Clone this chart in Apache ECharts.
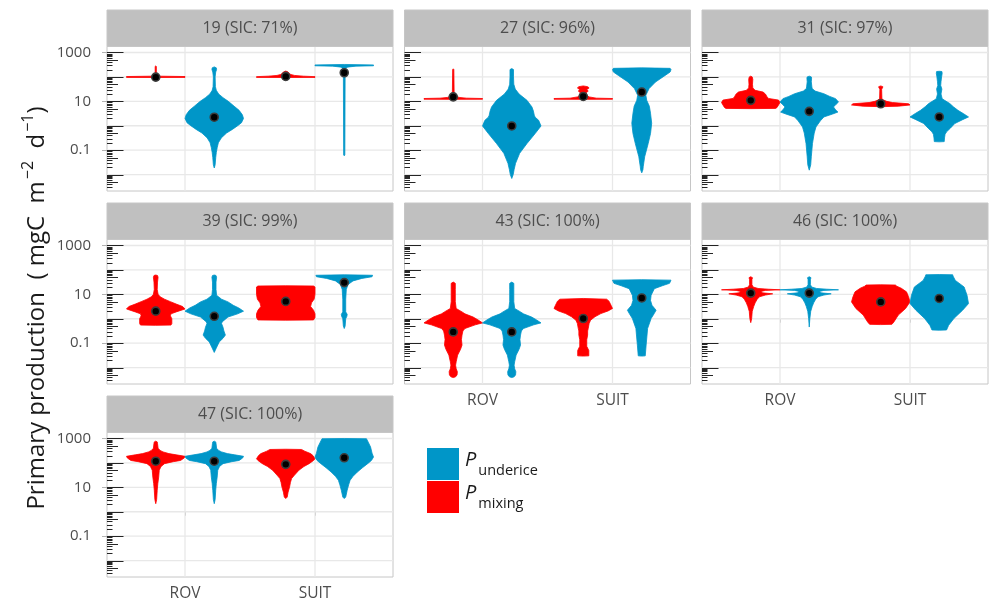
<!DOCTYPE html>
<html>
<head>
<meta charset="utf-8">
<script src="https://cdn.jsdelivr.net/npm/echarts@6/dist/echarts.min.js"></script>
<style>
  html, body { margin: 0; padding: 0; background: #ffffff; }
  #chart { width: 990px; height: 602px; }
</style>
</head>
<body>
<div id="chart"></div>
<script>
// ---------------------------------------------------------------------------
// Primary production by station, platform and source (log10 mgC m-2 d-1)
// ---------------------------------------------------------------------------
const facetLabels = ['19 (SIC: 71%)', '27 (SIC: 96%)', '31 (SIC: 97%)',
                     '39 (SIC: 99%)', '43 (SIC: 100%)', '46 (SIC: 100%)', '47 (SIC: 100%)'];
const platforms = ['ROV', 'SUIT'];
const sources = ['mixing', 'underice'];

// axis breaks, in log10 units
const yLabelLevels = [-1, 1, 3];
const yGridLevels = [-2, -1, 0, 1, 2, 3];
const logTickDecades = [-3, -2, -1, 0, 1, 2, 3];
const logTickMultipliers = [1, 2, 3, 4, 5, 6, 7, 8, 9];

// medians (log10); order: ROV mixing, ROV underice, SUIT mixing, SUIT underice
const median19 = [1.99, 0.35, 2.02, 2.17];
const median27 = [1.18, -0.01, 1.20, 1.38];
const median31 = [1.04, 0.59, 0.90, 0.36];
const median39 = [0.31, 0.10, 0.71, 1.48];
const median43 = [-0.54, -0.54, 0.01, 0.85];
const median46 = [1.05, 1.05, 0.69, 0.83];
const median47 = [2.07, 2.07, 1.94, 2.21];

// density outlines: [log10 value, relative half-width], bottom to top
const violin19 = [
  [[1.975,0],[1.98,1],[2.015,1],[2.03,0.08],[2.1,0.02],[2.43,0.02],[2.45,0]],
  [[-1.73,0],[-1.6,0.03],[-1.3,0.05],[-1.1,0.07],[-0.9,0.1],[-0.7,0.14],[-0.5,0.24],[-0.3,0.42],[-0.15,0.62],[0.0,0.8],[0.12,0.93],[0.3,1.0],[0.45,0.96],[0.63,0.85],[0.8,0.68],[1.0,0.48],[1.15,0.3],[1.3,0.15],[1.45,0.07],[1.6,0.04],[2.0,0.03],[2.2,0.05],[2.3,0.08],[2.37,0.07],[2.41,0]],
  [[1.975,0],[1.98,1],[2.01,1],[2.03,0.6],[2.06,0.3],[2.1,0.17],[2.15,0.12],[2.2,0.08],[2.24,0]],
  [[-1.23,0],[-1.2,0.02],[2.3,0.03],[2.4,0.1],[2.44,0.4],[2.455,1],[2.49,1],[2.51,0]]
];
const violin27 = [
  [[1.08,0],[1.085,1],[1.115,1],[1.13,0.45],[1.16,0.2],[1.2,0.12],[1.25,0.06],[1.35,0.03],[2.3,0.02],[2.33,0]],
  [[-2.16,0],[-2.0,0.05],[-1.8,0.08],[-1.54,0.13],[-1.13,0.27],[-0.73,0.52],[-0.32,0.8],[-0.01,1.0],[0.22,0.92],[0.35,0.8],[0.43,0.77],[0.6,0.74],[0.77,0.69],[1.04,0.52],[1.3,0.25],[1.5,0.12],[1.7,0.07],[2.0,0.06],[2.3,0.06],[2.34,0]],
  [[1.08,0],[1.085,1],[1.115,1],[1.13,0.45],[1.18,0.2],[1.25,0.12],[1.35,0.1],[1.42,0.17],[1.48,0.12],[1.55,0.2],[1.6,0.15],[1.63,0]],
  [[-1.93,0],[-1.8,0.04],[-1.68,0.05],[-1.27,0.1],[-0.73,0.22],[-0.32,0.3],[0.1,0.34],[0.51,0.3],[0.8,0.26],[1.04,0.17],[1.25,0.14],[1.52,0.25],[1.79,0.47],[2.06,0.8],[2.2,0.97],[2.3,1.0],[2.35,0.97],[2.37,0]]
];
const violin31 = [
  [[0.70,0],[0.71,0.85],[0.75,0.9],[0.85,0.95],[0.95,1.0],[1.05,0.95],[1.12,0.6],[1.2,0.55],[1.3,0.5],[1.38,0.42],[1.45,0.15],[1.55,0.07],[1.7,0.06],[1.9,0.07],[2.0,0.05],[2.03,0]],
  [[-1.82,0],[-1.6,0.05],[-1.27,0.07],[-0.73,0.11],[-0.3,0.17],[-0.05,0.23],[0.2,0.38],[0.36,0.5],[0.48,0.8],[0.56,0.98],[0.65,0.9],[0.77,0.83],[0.88,0.92],[0.97,1.0],[1.11,0.9],[1.2,0.7],[1.31,0.5],[1.42,0.2],[1.52,0.1],[1.59,0.09],[1.8,0.07],[1.95,0.08],[2.0,0.07],[2.03,0]],
  [[0.78,0],[0.8,0.6],[0.85,1.0],[0.9,0.95],[0.95,0.4],[1.0,0.2],[1.05,0.1],[1.1,0.04],[1.5,0.03],[1.55,0.06],[1.6,0.07],[1.63,0]],
  [[-0.66,0],[-0.65,0.17],[-0.5,0.18],[-0.35,0.2],[-0.25,0.25],[-0.1,0.38],[0.09,0.53],[0.25,0.8],[0.36,1.0],[0.5,0.82],[0.63,0.64],[0.78,0.48],[0.91,0.36],[1.05,0.17],[1.11,0.1],[1.3,0.06],[1.5,0.09],[1.65,0.05],[1.8,0.06],[2.0,0.08],[2.15,0.1],[2.22,0.09],[2.23,0]]
];
const violin39 = [
  [[-0.27,0],[-0.26,0.52],[-0.2,0.55],[0.0,0.55],[0.12,0.5],[0.2,0.52],[0.28,0.7],[0.4,1.0],[0.5,0.92],[0.6,0.7],[0.7,0.5],[0.8,0.3],[0.9,0.15],[1.0,0.08],[1.2,0.05],[1.5,0.06],[1.7,0.08],[1.77,0.06],[1.79,0]],
  [[-1.38,0],[-1.2,0.07],[-0.95,0.17],[-0.8,0.3],[-0.67,0.38],[-0.5,0.33],[-0.35,0.3],[-0.2,0.25],[-0.13,0.27],[0.07,0.47],[0.2,0.8],[0.31,1.0],[0.44,0.84],[0.55,0.65],[0.69,0.47],[0.8,0.25],[0.96,0.08],[1.2,0.06],[1.5,0.06],[1.7,0.08],[1.77,0.06],[1.79,0]],
  [[-0.06,0],[-0.05,0.95],[0.05,1.0],[0.2,1.0],[0.35,0.95],[0.5,0.85],[0.65,0.88],[0.8,0.97],[1.0,1.0],[1.3,1.0],[1.34,0.95],[1.35,0]],
  [[-0.4,0],[-0.3,0.03],[0.0,0.05],[0.1,0.09],[0.18,0.1],[0.28,0.05],[0.8,0.05],[1.2,0.07],[1.4,0.13],[1.55,0.3],[1.65,0.6],[1.72,0.95],[1.78,0.97],[1.8,0]]
];
const violin43 = [
  [[-2.41,0],[-2.38,0.08],[-2.3,0.13],[-2.17,0.14],[-2.05,0.1],[-1.9,0.08],[-1.76,0.1],[-1.49,0.15],[-1.25,0.25],[-1.08,0.3],[-0.85,0.28],[-0.67,0.3],[-0.5,0.33],[-0.4,0.4],[-0.25,0.75],[-0.17,1.0],[-0.05,0.85],[0.07,0.68],[0.2,0.4],[0.28,0.3],[0.42,0.1],[0.7,0.07],[1.2,0.07],[1.45,0.07],[1.5,0]],
  [[-2.41,0],[-2.38,0.08],[-2.3,0.13],[-2.17,0.14],[-2.05,0.1],[-1.9,0.08],[-1.76,0.1],[-1.49,0.15],[-1.25,0.25],[-1.08,0.3],[-0.85,0.28],[-0.67,0.3],[-0.5,0.33],[-0.4,0.4],[-0.25,0.75],[-0.17,1.0],[-0.05,0.85],[0.07,0.68],[0.2,0.4],[0.28,0.3],[0.42,0.1],[0.7,0.07],[1.2,0.07],[1.45,0.07],[1.5,0]],
  [[-1.53,0],[-1.52,0.19],[-1.3,0.19],[-1.13,0.12],[-0.86,0.12],[-0.67,0.15],[-0.5,0.15],[-0.4,0.17],[-0.2,0.2],[-0.06,0.25],[0.08,0.4],[0.21,0.6],[0.32,0.85],[0.42,1.0],[0.55,0.95],[0.72,0.88],[0.8,0.8],[0.83,0]],
  [[-1.53,0],[-1.52,0.12],[-1.08,0.15],[-0.4,0.2],[0.01,0.32],[0.2,0.42],[0.35,0.49],[0.55,0.35],[0.75,0.3],[0.96,0.32],[1.23,0.43],[1.35,0.7],[1.45,0.95],[1.58,1.0],[1.6,0]]
];
const violin46 = [
  [[-0.16,0],[0.0,0.03],[0.3,0.05],[0.5,0.1],[0.65,0.15],[0.8,0.22],[0.9,0.3],[0.97,0.5],[1.02,0.75],[1.06,0.4],[1.12,0.35],[1.16,0.5],[1.185,1.0],[1.21,0.6],[1.24,0.25],[1.3,0.08],[1.4,0.04],[1.6,0.04],[1.68,0.06],[1.72,0]],
  [[-0.34,0],[0.0,0.02],[0.3,0.05],[0.5,0.1],[0.65,0.15],[0.8,0.22],[0.9,0.3],[0.97,0.5],[1.02,0.75],[1.06,0.4],[1.12,0.35],[1.16,0.5],[1.185,1.0],[1.21,0.6],[1.24,0.25],[1.3,0.08],[1.4,0.04],[1.6,0.04],[1.68,0.06],[1.72,0]],
  [[-0.24,0],[-0.23,0.38],[-0.13,0.45],[0.15,0.6],[0.42,0.85],[0.69,1.0],[0.9,0.95],[1.1,0.88],[1.25,0.7],[1.33,0.55],[1.38,0.5],[1.39,0]],
  [[-0.47,0],[-0.46,0.25],[-0.27,0.32],[0.01,0.5],[0.35,0.8],[0.62,1.0],[0.96,0.95],[1.3,0.85],[1.57,0.55],[1.75,0.47],[1.8,0.46],[1.81,0]]
];
const violin47 = [
  [[0.33,0],[0.5,0.03],[0.88,0.05],[1.15,0.07],[1.42,0.1],[1.7,0.12],[1.85,0.18],[1.97,0.3],[2.05,0.6],[2.1,0.85],[2.2,0.97],[2.27,1.0],[2.33,0.7],[2.38,0.45],[2.45,0.25],[2.51,0.15],[2.6,0.08],[2.8,0.06],[2.86,0.05],[2.89,0]],
  [[0.33,0],[0.5,0.03],[0.88,0.05],[1.15,0.07],[1.42,0.1],[1.7,0.12],[1.85,0.18],[1.97,0.3],[2.05,0.6],[2.1,0.85],[2.2,0.97],[2.27,1.0],[2.33,0.7],[2.38,0.45],[2.45,0.25],[2.51,0.15],[2.6,0.08],[2.8,0.06],[2.86,0.05],[2.89,0]],
  [[0.54,0],[0.6,0.05],[0.8,0.08],[1.01,0.13],[1.2,0.16],[1.36,0.2],[1.5,0.3],[1.7,0.45],[1.85,0.62],[1.97,0.8],[2.1,0.95],[2.17,1.0],[2.3,0.93],[2.38,0.85],[2.48,0.65],[2.55,0.54],[2.56,0]],
  [[0.54,0],[0.6,0.05],[0.88,0.1],[1.1,0.15],[1.29,0.2],[1.45,0.3],[1.63,0.45],[1.8,0.62],[1.97,0.8],[2.1,0.93],[2.24,1.0],[2.4,0.95],[2.65,0.9],[2.85,0.82],[2.99,0.76],[3.0,0]]
];

const facetViolins = [violin19, violin27, violin31, violin39, violin43, violin46, violin47];
const facetMedians = [median19, median27, median31, median39, median43, median46, median47];

// ---------------------------------------------------------------------------
// Layout and styling
// ---------------------------------------------------------------------------
const FONT = 'Open Sans';
const SOURCE_COLORS = ['#ff0000', '#0096c8'];   // mixing, underice
const X_MIN = 0.4, X_MAX = 2.6;
const Y_MIN = -2.673, Y_MAX = 3.245;
const DODGE = 0.225, HALF_WIDTH = 0.225;
const COL_LEFT = [107, 404.5, 702];
const PANEL_W = 286;
const STRIP_TOP = [10, 203, 396];
const STRIP_H = 36.5;
const PANEL_H = 144.5;
const NCOL = 3;

// facets that carry the x labels (last facet of each column)
const bottomFacets = [6, 4, 5];

// violin slots: platform x source
const slots = [];
platforms.forEach((p, pi) => {
  sources.forEach((s, si) => {
    slots.push({ x: pi + 1 + (si === 0 ? -DODGE : DODGE), color: SOURCE_COLORS[si] });
  });
});

// log tick marks: long at 10^k, mid at 5*10^k, short otherwise
const logTicks = [];
logTickDecades.forEach(d => {
  logTickMultipliers.forEach(m => {
    const lv = d + Math.log10(m);
    if (lv >= Y_MIN && lv <= Y_MAX) logTicks.push([X_MIN, lv, m === 1 ? 3 : (m === 5 ? 2 : 1)]);
  });
});

const grids = [], xAxes = [], yAxes = [], series = [], graphics = [];

facetLabels.forEach((label, f) => {
  const row = Math.floor(f / NCOL), col = f % NCOL;
  const left = COL_LEFT[col];
  const top = STRIP_TOP[row] + STRIP_H;
  const showX = bottomFacets.indexOf(f) >= 0;
  const showY = col === 0;

  grids.push({
    left: left, top: top, width: PANEL_W, height: PANEL_H,
    show: true, backgroundColor: '#ffffff', borderColor: '#c6c6c6', borderWidth: 1,
    containLabel: false
  });

  xAxes.push({
    gridIndex: f, type: 'value', min: X_MIN, max: X_MAX,
    axisLine: { show: false },
    splitLine: { show: false },
    axisTick: { show: showX, customValues: [1, 2], length: 4, lineStyle: { color: '#b3b3b3', width: 1 } },
    axisLabel: {
      show: showX, customValues: [1, 2], margin: 9,
      formatter: v => platforms[Math.round(v) - 1],
      fontFamily: FONT, fontSize: 15.5, color: '#4d4d4d'
    }
  });

  yAxes.push({
    gridIndex: f, type: 'value', min: Y_MIN, max: Y_MAX,
    axisLine: { show: false },
    splitLine: { show: false },
    axisTick: { show: showY, customValues: yLabelLevels, length: 5, lineStyle: { color: '#b3b3b3', width: 1 } },
    axisLabel: {
      show: showY, customValues: yLabelLevels, margin: 16,
      formatter: v => String(Math.pow(10, v)),
      fontFamily: FONT, fontSize: 15, color: '#4d4d4d'
    }
  });

  // background grid lines: horizontal at every decade, vertical at platforms
  const gridData = yGridLevels.map(v => [1, v, 0]).concat([1, 2].map(v => [v, 0, 1]));
  series.push({
    type: 'custom', xAxisIndex: f, yAxisIndex: f, silent: true, z: 1,
    data: gridData,
    renderItem: (params, api) => {
      const kind = api.value(2);
      let p1, p2;
      if (kind === 0) {
        p1 = api.coord([X_MIN, api.value(1)]);
        p2 = api.coord([X_MAX, api.value(1)]);
      } else {
        p1 = api.coord([api.value(0), Y_MIN]);
        p2 = api.coord([api.value(0), Y_MAX]);
      }
      return {
        type: 'line', shape: { x1: p1[0], y1: p1[1], x2: p2[0], y2: p2[1] },
        style: { stroke: '#e8e8e8', lineWidth: 1.3 }
      };
    }
  });

  // log tick marks along the left edge
  series.push({
    type: 'custom', xAxisIndex: f, yAxisIndex: f, silent: true, z: 2,
    data: logTicks,
    renderItem: (params, api) => {
      const p = api.coord([api.value(0), api.value(1)]);
      const len = api.value(2) * 5.5;
      const y = Math.round(p[1]) + 0.5;
      return {
        type: 'line', shape: { x1: p[0], y1: y, x2: p[0] + len, y2: y },
        style: { stroke: '#000000', lineWidth: 1, opacity: 0.85 }
      };
    }
  });

  // violins
  const shapes = facetViolins[f];
  const medians = facetMedians[f];
  series.push({
    type: 'custom', xAxisIndex: f, yAxisIndex: f, silent: true, z: 3,
    data: slots.map((s, k) => [s.x, medians[k]]),
    renderItem: (params, api) => {
      const k = params.dataIndex;
      const xc = api.value(0);
      const prof = shapes[k];
      const right = prof.map(([lv, w]) => api.coord([xc + w * HALF_WIDTH, lv]));
      const leftSide = prof.slice().reverse().map(([lv, w]) => api.coord([xc - w * HALF_WIDTH, lv]));
      const color = slots[k].color;
      return {
        type: 'polygon', shape: { points: right.concat(leftSide) },
        style: { fill: color, stroke: color, lineWidth: 0.8 }
      };
    }
  });

  // median markers
  series.push({
    type: 'scatter', xAxisIndex: f, yAxisIndex: f, silent: true, z: 4,
    data: slots.map((s, k) => [s.x, medians[k]]),
    symbol: 'circle', symbolSize: 8,
    itemStyle: { color: '#000000', borderColor: '#3c3c3c', borderWidth: 1.6, opacity: 1 }
  });

  // facet strip
  graphics.push({
    type: 'rect', silent: true, z: 10,
    shape: { x: left, y: STRIP_TOP[row], width: PANEL_W, height: STRIP_H },
    style: { fill: '#c0c0c0', stroke: '#c6c6c6', lineWidth: 1 }
  });
  graphics.push({
    type: 'text', silent: true, z: 11,
    x: left + PANEL_W / 2, y: STRIP_TOP[row] + STRIP_H / 2,
    style: {
      text: label, fontFamily: FONT, fontSize: 16, fill: '#4d4d4d',
      align: 'center', verticalAlign: 'middle'
    }
  });
});

// y-axis title
graphics.push({
  type: 'text', silent: true, z: 11,
  x: 33, y: 308, rotation: Math.PI / 2,
  style: {
    text: '{t|Primary production}{t|  (}{t| mgC  m}{s|−2}{t|  d}{s|−1}{t|)}',
    align: 'center', verticalAlign: 'middle',
    rich: {
      t: { fontFamily: FONT, fontSize: 24, fill: '#1a1a1a', lineHeight: 32, verticalAlign: 'bottom' },
      s: { fontFamily: FONT, fontSize: 16, fill: '#1a1a1a', lineHeight: 32, verticalAlign: 'top', padding: [3, 0, 0, 2] }
    }
  }
});

// legend
const legendItems = [
  { name: 'underice', color: SOURCE_COLORS[1], y: 448 },
  { name: 'mixing', color: SOURCE_COLORS[0], y: 481 }
];
legendItems.forEach(item => {
  graphics.push({
    type: 'rect', silent: true, z: 11,
    shape: { x: 427, y: item.y, width: 32, height: 32 },
    style: { fill: item.color }
  });
  graphics.push({
    type: 'text', silent: true, z: 11,
    x: 465, y: item.y + 16,
    style: {
      text: '{p|P}{s|' + item.name + '}',
      align: 'left', verticalAlign: 'middle',
      rich: {
        p: { fontFamily: FONT, fontSize: 20, fontStyle: 'italic', fill: '#1a1a1a', lineHeight: 28, verticalAlign: 'top' },
        s: { fontFamily: FONT, fontSize: 14.5, fill: '#1a1a1a', lineHeight: 28, verticalAlign: 'bottom', padding: [0, 0, 0, 2] }
      }
    }
  });
});

const chart = echarts.init(document.getElementById('chart'), null, { renderer: 'canvas' });
chart.setOption({
  animation: false,
  backgroundColor: '#ffffff',
  grid: grids,
  xAxis: xAxes,
  yAxis: yAxes,
  series: series,
  graphic: graphics
});
</script>
</body>
</html>
